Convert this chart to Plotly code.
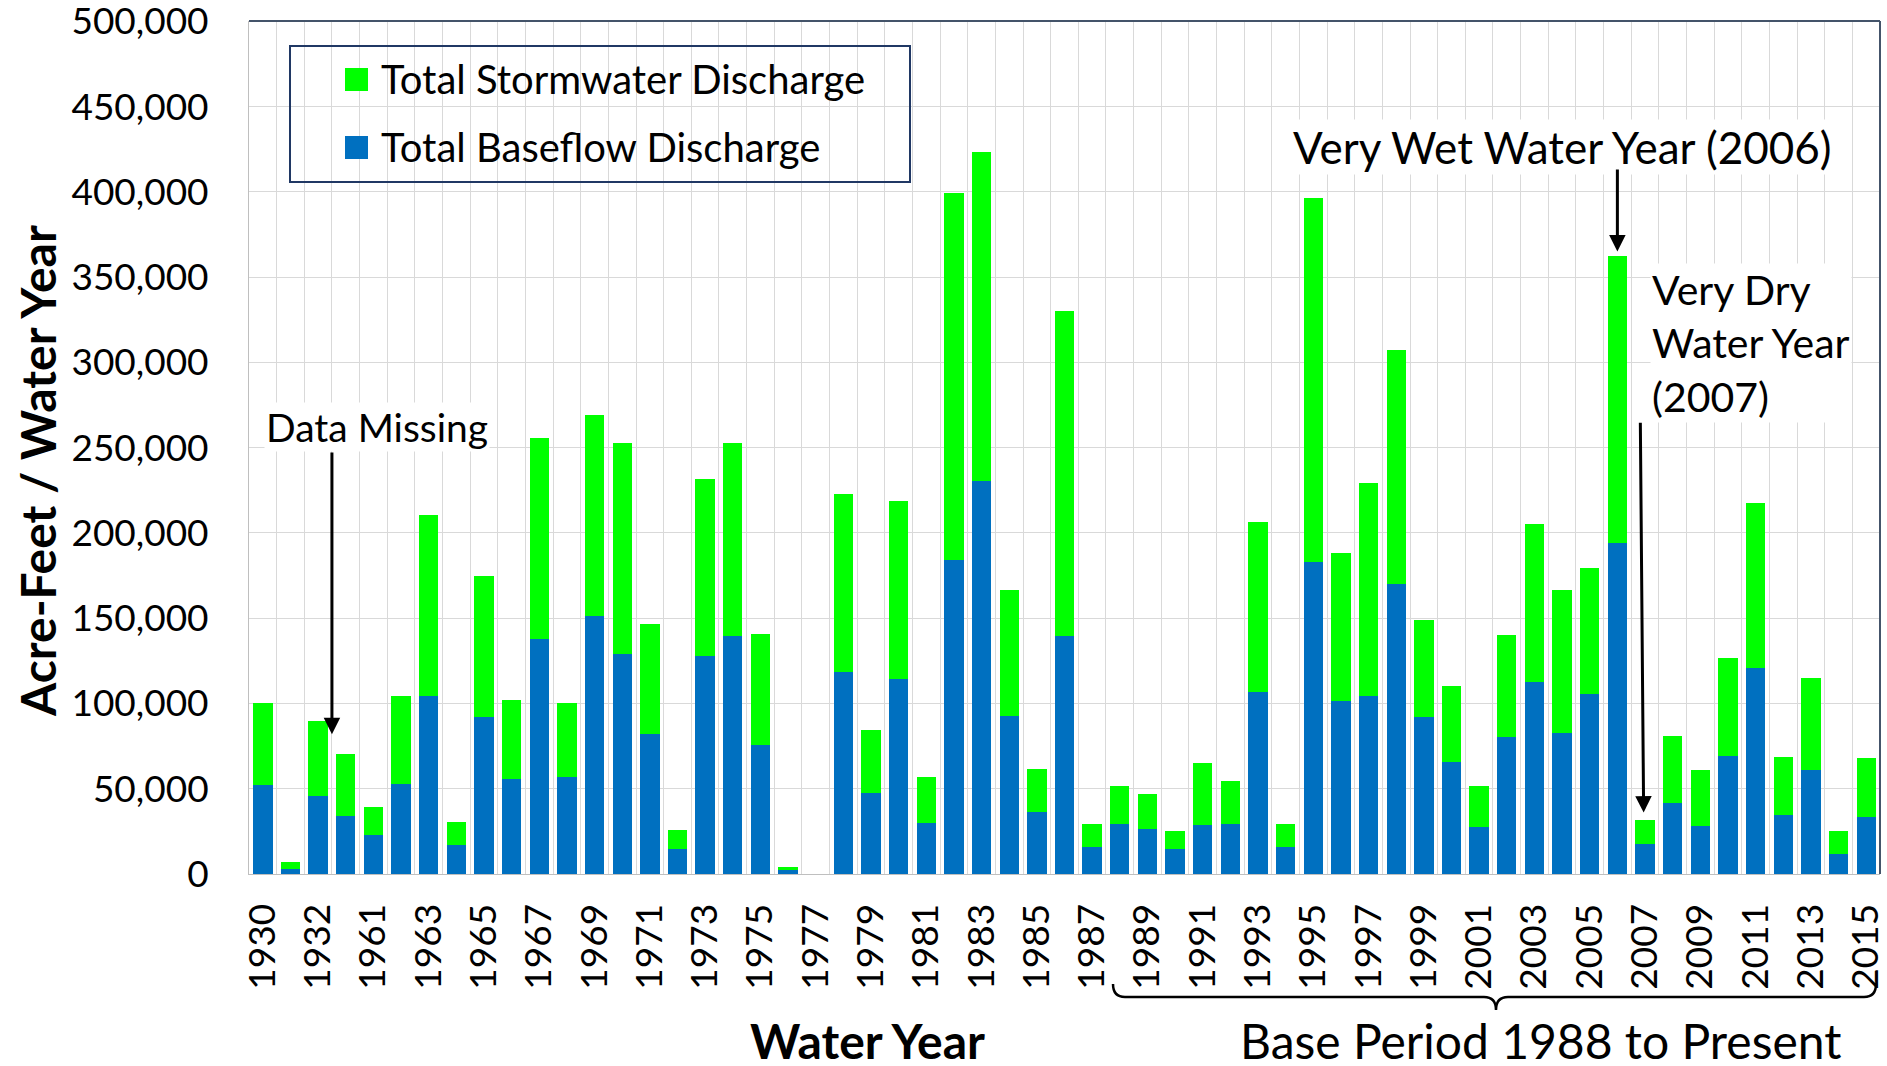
import plotly.graph_objects as go

# water years shown on the chart (1934-1960 missing)
years = ["1930", "1931", "1932", "1933", "1961", "1962", "1963", "1964", "1965", "1966",
         "1967", "1968", "1969", "1970", "1971", "1972", "1973", "1974", "1975", "1976",
         "1977", "1978", "1979", "1980", "1981", "1982", "1983", "1984", "1985", "1986",
         "1987", "1988", "1989", "1990", "1991", "1992", "1993", "1994", "1995", "1996",
         "1997", "1998", "1999", "2000", "2001", "2002", "2003", "2004", "2005", "2006",
         "2007", "2008", "2009", "2010", "2011", "2012", "2013", "2014", "2015"]

# acre-feet per water year
baseflow = [52000, 3200, 45900, 33900, 22700, 52700, 104500, 17200, 91800, 55900,
            138100, 56700, 151200, 129300, 82200, 14800, 128100, 139700, 75400, 2400,
            0, 118500, 47500, 114500, 29900, 183900, 230200, 92600, 36300, 139700,
            16000, 29500, 26300, 14400, 28700, 29100, 106500, 16000, 182700, 101300,
            104100, 170000, 92200, 65400, 27500, 80200, 112500, 82600, 105300, 194300,
            17600, 41900, 27900, 69000, 120900, 34700, 61000, 11600, 33500]

stormwater = [48000, 3600, 43900, 36700, 16400, 51800, 105800, 13500, 83000, 46200,
              117300, 43800, 117700, 123700, 64200, 11100, 103700, 112900, 65400, 2000,
              0, 104100, 36700, 104500, 26800, 215500, 193100, 73800, 25500, 190700,
              13500, 22000, 20800, 11100, 36300, 25600, 99800, 13100, 213900, 87000,
              124900, 137200, 56600, 45100, 24000, 60200, 93000, 83800, 73900, 168000,
              14300, 39100, 33100, 57500, 96600, 33900, 53900, 13500, 34300]

y_ticks = [0, 50000, 100000, 150000, 200000, 250000, 300000, 350000, 400000, 450000, 500000]
tick_labels = [y if i % 2 == 0 else "" for i, y in enumerate(years)]

GREEN = "#00FF00"
BLUE = "#0070C0"
FONT = "Lato"

# plot area in pixels
L, R, T, B = 249, 1880, 21, 874


def px(x):
    return (x - L) / (R - L)


def py(y):
    return (B - y) / (B - T)


fig = go.Figure()
fig.add_trace(go.Bar(x=years, y=baseflow, name="Total Baseflow Discharge",
                     marker=dict(color=BLUE, line=dict(width=0))))
fig.add_trace(go.Bar(x=years, y=stormwater, name="Total Stormwater Discharge",
                     marker=dict(color=GREEN, line=dict(width=0))))

fig.update_layout(
    width=1887, height=1066,
    margin=dict(l=L, r=1887 - R, t=T, b=1066 - B),
    barmode="stack", bargap=0.30,
    plot_bgcolor="white", paper_bgcolor="white",
    showlegend=False,
    font=dict(family=FONT, color="black"),
)

fig.update_xaxes(
    type="category", tickmode="array", tickvals=years, ticktext=tick_labels,
    tickangle=-90, tickfont=dict(size=37, family=FONT), automargin=False,
    tickson="boundaries", ticks="", showgrid=True, gridcolor="#D9D9D9", gridwidth=1,
    showline=True, linecolor="#BFBFBF", linewidth=1, ticklabelstandoff=14,
)
fig.update_yaxes(
    range=[0, 500200], tickmode="array", tickvals=y_ticks, tickformat=",", ticks="",
    tickfont=dict(size=37, family=FONT), ticklabeloverflow="allow", automargin=False,
    showgrid=True, gridcolor="#D9D9D9", gridwidth=1, zeroline=False,
    showline=True, linecolor="#BFBFBF", linewidth=1, ticklabelstandoff=32,
)

shapes = []
# dark frame on top and right of plot area
shapes.append(dict(type="line", xref="paper", yref="paper", x0=0, x1=1, y0=1, y1=1,
                   line=dict(color="#44546A", width=2)))
shapes.append(dict(type="line", xref="paper", yref="paper", x0=1, x1=1, y0=0, y1=1,
                   line=dict(color="#44546A", width=2)))
# legend box
shapes.append(dict(type="rect", xref="paper", yref="paper",
                   x0=px(290), x1=px(910), y0=py(182), y1=py(46),
                   line=dict(color="#203864", width=2), fillcolor="rgba(0,0,0,0)"))
shapes.append(dict(type="rect", xref="paper", yref="paper",
                   x0=px(345), x1=px(368), y0=py(91), y1=py(68),
                   line=dict(width=0), fillcolor=GREEN))
shapes.append(dict(type="rect", xref="paper", yref="paper",
                   x0=px(345), x1=px(368), y0=py(159), y1=py(136),
                   line=dict(width=0), fillcolor=BLUE))

# bracket under the base period years
pts = [("M", 1113, 984), ("Q", 1113, 997), ("", 1125, 997), ("L", 1484, 997),
       ("Q", 1496, 997), ("", 1496, 1010), ("Q", 1496, 997), ("", 1508, 997),
       ("L", 1864, 997), ("Q", 1876, 997), ("", 1876, 984)]
path = " ".join(f"{c} {px(x):.5f},{py(y):.5f}" if c else f"{px(x):.5f},{py(y):.5f}"
                for c, x, y in pts)
shapes.append(dict(type="path", xref="paper", yref="paper", path=path,
                   line=dict(color="black", width=2.5)))
fig.update_layout(shapes=shapes)


def label(text, x, y, size=40, xanchor="left", **kw):
    fig.add_annotation(text=text, xref="paper", yref="paper", x=px(x), y=py(y),
                       xanchor=xanchor, yanchor="middle", showarrow=False,
                       font=dict(size=size, family=FONT, color="black"), **kw)


label("Total Stormwater Discharge", 379, 79)
label("Total Baseflow Discharge", 379, 147)
label("Data Missing", 264, 427, size=39, bgcolor="white")
label("Very Wet Water Year (2006)", 1291, 147, size=44, bgcolor="white")
label("Very Dry<br>Water Year<br>(2007)", 1650, 343, size=41, align="left", bgcolor="white")
label("<b>Water Year</b>", 867, 1040, size=48, xanchor="center")
label("Base Period 1988 to Present", 1540, 1040, size=48, xanchor="center")
label("<b>Acre-Feet / Water Year</b>", 37, 471, size=48, xanchor="center", textangle=-90)

# arrows
arrow = dict(showarrow=True, text="", xref="x", yref="y", axref="x", ayref="y",
             arrowhead=2, arrowsize=1.1, arrowwidth=3, arrowcolor="black", standoff=0)
fig.add_annotation(x=2.5, y=82000, ax=2.5, ay=248000, **arrow)
fig.add_annotation(x=49, y=365000, ax=49, ay=414000, **arrow)
fig.add_annotation(x=49.95, y=36000, ax=49.83, ay=265500, **arrow)

fig.write_html("out.html", config={"displayModeBar": False},
               post_script="document.body.style.margin='0';")
